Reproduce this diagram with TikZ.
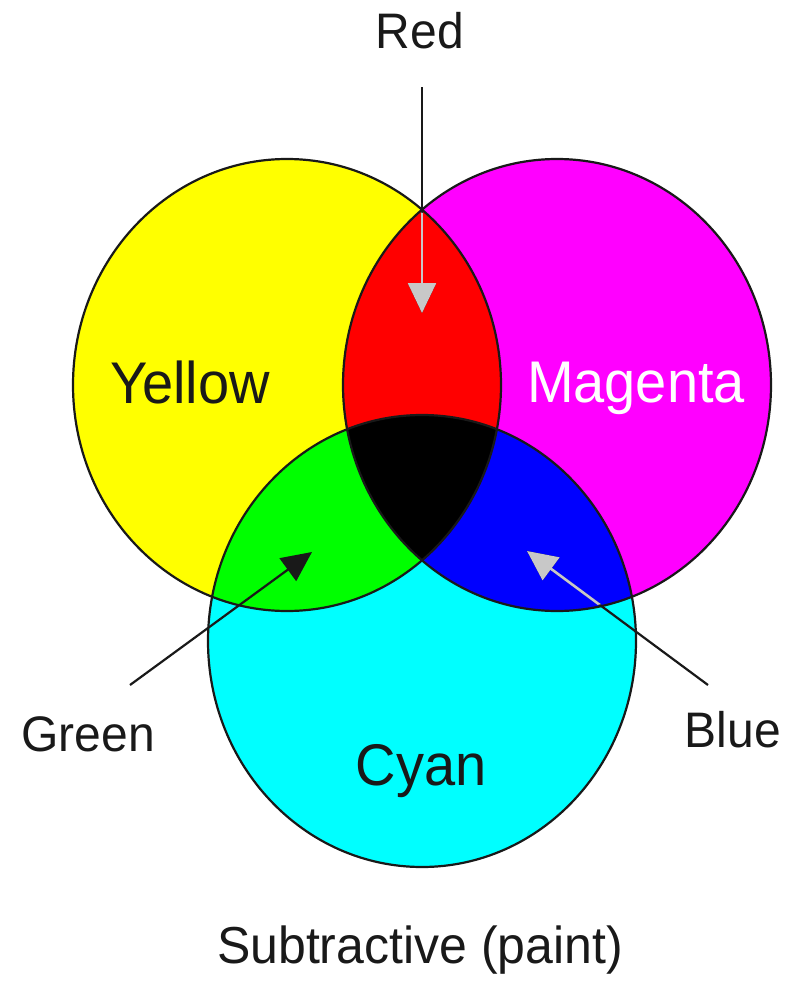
\documentclass[tikz,border=0pt]{standalone}
\usepackage{fontspec}
\setmainfont{Liberation Sans}
\usetikzlibrary{arrows.meta}
\definecolor{cY}{RGB}{255,255,0}
\definecolor{cM}{RGB}{255,0,255}
\definecolor{cC}{RGB}{0,255,255}
\definecolor{cR}{RGB}{255,0,0}
\definecolor{cG}{RGB}{0,255,0}
\definecolor{cB}{RGB}{0,0,255}
\definecolor{ink}{RGB}{25,25,25}
\definecolor{pale}{RGB}{200,200,200}
\begin{document}
\begin{tikzpicture}[x=1pt,y=-1pt,
  outline/.style={draw=ink, line width=2.2pt},
  lbl/.style={font=\fontsize{48}{58}\selectfont, text=ink, inner sep=0pt, anchor=base},
  big/.style={font=\fontsize{56}{66}\selectfont, text=ink, inner sep=0pt, anchor=base},
  pointer/.style={line width=2.2pt, -{Triangle[length=30pt,width=28pt]}},
]
\useasboundingbox (0,0) rectangle (803,983);
% base discs
\fill[cY] (287,385) ellipse [x radius=214, y radius=226];
\fill[cM] (557,385) ellipse [x radius=214, y radius=226];
\fill[cC] (422,641) ellipse [x radius=214, y radius=226];
% pairwise overlaps
\begin{scope}
  \clip (287,385) ellipse [x radius=214, y radius=226];
  \fill[cR] (557,385) ellipse [x radius=214, y radius=226];
  \fill[cG] (422,641) ellipse [x radius=214, y radius=226];
\end{scope}
\begin{scope}
  \clip (557,385) ellipse [x radius=214, y radius=226];
  \fill[cB] (422,641) ellipse [x radius=214, y radius=226];
\end{scope}
\begin{scope}
  \clip (287,385) ellipse [x radius=214, y radius=226];
  \clip (557,385) ellipse [x radius=214, y radius=226];
  \fill[black] (422,641) ellipse [x radius=214, y radius=226];
\end{scope}
% outlines
\draw[outline] (287,385) ellipse [x radius=214, y radius=226];
\draw[outline] (557,385) ellipse [x radius=214, y radius=226];
\draw[outline] (422,641) ellipse [x radius=214, y radius=226];

% labels
\node[lbl] (red) at (420,48) {\scalebox{1}[1.04]{Red}};
\node[lbl] (green) at (88,751) {\scalebox{1}[1.04]{Green}};
\node[lbl] (blue) at (733,747) {\scalebox{1}[1.04]{Blue}};
\node[lbl, font=\fontsize{50}{60}\selectfont] (title) at (420,963) {\scalebox{1}[1.04]{Subtractive (paint)}};
\node[big] (yellow) at (190,403) {\scalebox{1}[1.05]{Yellow}};
\node[big, text=white] (magenta) at (636,402) {\scalebox{1}[1.05]{Magenta}};
\node[big] (cyan) at (421,785) {\scalebox{1}[1.05]{Cyan}};

% pointer ends
\coordinate (rs) at (422,87);
\coordinate (rt) at (422,313);
\coordinate (gs) at (130,685);
\coordinate (gt) at (312,552);
\coordinate (bs) at (708,685);
\coordinate (bt) at (527,551);

\draw[pointer, ink] (rs) -- (rt);
\draw[pointer, ink] (gs) -- (gt);
\draw[pointer, ink] (bs) -- (bt);
% pale parts over the dark regions
\begin{scope}
  \clip (287,385) ellipse [x radius=212, y radius=224];
  \clip (557,385) ellipse [x radius=212, y radius=224];
  \draw[pointer, pale, line width=2.6pt] (rs) -- (rt);
\end{scope}
\begin{scope}
  \clip (557,385) ellipse [x radius=212, y radius=224];
  \clip (422,641) ellipse [x radius=212, y radius=224];
  \draw[pointer, pale, line width=2.6pt] (bs) -- (bt);
\end{scope}
\end{tikzpicture}
\end{document}
